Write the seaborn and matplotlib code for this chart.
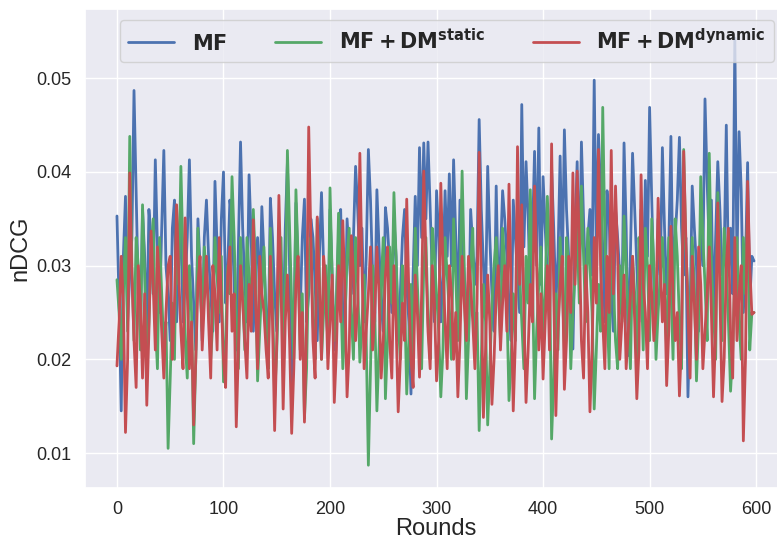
import numpy as np
import pandas as pd
import matplotlib
matplotlib.use("Agg")
import matplotlib.pyplot as plt
import seaborn as sns

# nDCG per round, every 2nd round (values in 1e-3)
rounds = list(range(0, 600, 2))

ndcg_mf = [
    35.3, 26, 14.5, 31, 37.4, 24, 29, 33, 48.7, 38, 27, 23, 36, 31, 22, 36, 33, 27, 41.3, 32,
    25, 34, 42.3, 30, 27, 22, 34, 37, 24, 30, 36, 24, 28, 33, 41.3, 31, 26, 21, 35, 30,
    22, 33, 37, 31, 27, 23, 39, 32, 24, 35, 40, 26, 30, 37, 35, 28, 21, 32, 43.2, 34,
    28, 24, 39.7, 33, 23, 30, 33, 26, 36.3, 31, 25, 21, 37.2, 33, 27, 23, 34, 30, 22, 34,
    41, 30, 15.5, 22, 36.7, 30, 25, 33, 37.1, 24, 27, 35, 33, 28, 22, 31, 37.8, 30, 26, 22,
    36, 29, 21, 26, 33, 36, 25, 22, 35, 31, 27, 33, 40.6, 36, 30, 34, 24, 31, 42.4, 37,
    29, 24, 38.1, 32, 26, 23, 36.2, 34, 30, 25, 35, 31, 22, 27, 33, 36, 28, 24, 16.3, 29,
    37.4, 30, 42.6, 33, 43.1, 35, 43.2, 36, 29, 24, 38, 33, 24, 29, 38, 31, 39.8, 30, 41.3, 33,
    25, 37, 33, 29, 26, 22, 36, 32, 28, 31, 45.6, 36, 30, 26, 40.6, 33, 27, 23, 38.5, 27,
    31, 38, 35, 31, 26, 22, 37, 33, 29, 25, 47.2, 32, 41.1, 35, 27, 33, 42.2, 30, 44.7, 28,
    39.5, 34, 29, 24, 40.4, 34, 26, 31, 41.7, 29, 44.5, 36, 31, 27, 21.1, 33, 41.1, 28, 43.2, 35,
    28, 33, 36, 29, 49.8, 31, 44, 38, 32, 24, 38, 35, 27, 23, 36, 33, 29, 25, 43.1, 34,
    20.4, 31, 42, 36, 30, 24, 36, 28, 39.1, 31, 46.9, 37, 28, 22, 35, 29, 42.6, 34, 27, 32,
    43.8, 28, 33, 37, 43.7, 34, 29, 33, 16, 25, 38.5, 34, 30, 23, 36, 30, 47.8, 39, 32, 37,
    24, 33, 41.1, 36, 29, 31, 45, 29, 34, 27, 54.3, 30, 44.3, 38, 25, 30, 41, 26, 31, 30.5,
]

ndcg_static = [
    28.5, 25, 20, 27, 33, 23, 43.8, 30, 22, 33, 30, 21, 36.5, 29, 19, 24, 31, 35, 24, 19,
    33, 27, 21, 24, 10.5, 18, 26, 20, 36, 28, 40.6, 31, 22, 18, 30, 25, 11, 20, 34, 28,
    23, 32, 29, 26, 20, 24, 33, 29, 25, 31, 17.6, 22, 30, 27, 39.5, 33, 24, 19, 33, 27,
    21, 33, 29, 24, 36, 30, 17.7, 23, 28, 32, 23, 19, 34, 27, 15.8, 21, 28, 33, 22, 26,
    42.3, 34, 26, 20, 38.1, 31, 21, 27, 13.7, 19, 31, 33, 24, 20, 35, 29, 20, 25, 30, 21,
    38.3, 29, 22, 26, 35.6, 28, 19, 24, 31, 34, 25, 20, 33, 28, 19.7, 24, 29, 22, 8.7, 19,
    30, 25, 14.5, 21, 28, 33, 15.8, 22, 32, 26, 37.8, 31, 24, 20, 30, 27, 16.3, 22, 28, 19,
    34, 28, 22, 19, 30, 33, 24, 20, 34, 31, 27, 23, 16, 21, 33, 29, 25, 20, 35, 29,
    22, 28, 40.1, 30, 15.8, 22, 30, 34, 21, 25, 12.4, 20, 28, 24, 13, 19, 26, 30, 33, 27,
    22, 34, 30, 26, 15.6, 20, 27, 22, 34, 29, 24, 19, 31, 26, 38.1, 29, 15.8, 23, 28, 32,
    22, 27, 37.4, 31, 11.5, 18, 27, 21, 33, 28, 21, 33, 30, 19, 25, 29, 34, 26, 38.5, 31,
    24, 34, 30, 25, 14.7, 21, 28, 23, 46.9, 33, 26, 19, 33, 28, 22, 19, 30, 24, 35.3, 30,
    24, 19, 31, 27, 19, 33, 29, 21, 34, 30, 22, 35, 30, 20, 25, 29, 33, 27, 21, 33,
    28, 20, 35, 31, 24, 19, 42.4, 32, 27, 21, 33, 28, 17.7, 24, 39.5, 33, 28, 22, 42, 30,
    25, 20, 37.8, 31, 22, 34, 30, 24, 16.6, 21, 29, 33, 24, 20, 33, 27, 36, 21, 25, 25,
]

ndcg_dynamic = [
    19.3, 24, 31, 26, 12.2, 20, 39.9, 29, 22, 17, 30, 26, 18, 27, 15.1, 23, 33.7, 28, 21, 32,
    28, 23, 18, 25, 30, 31, 20, 26, 36.5, 29, 23, 19, 35.1, 27, 19, 24, 13, 20, 28, 31,
    21, 26, 31, 24, 18, 30, 27, 21, 33, 26, 20, 17, 29, 32, 23, 27, 12.8, 21, 30, 26,
    22, 18, 28, 23, 34.9, 27, 19, 31, 27, 25, 21, 18, 31, 24, 12.4, 22, 37.5, 28, 14.7, 24,
    29, 22, 12.1, 19, 28, 31, 20, 25, 13.3, 24, 44.8, 33, 22, 18, 35.2, 28, 20, 31, 28, 19,
    24, 29, 15.4, 21, 30, 24, 34.8, 27, 16, 21, 33.2, 29, 22, 26, 42, 30, 19, 23, 27, 32,
    21, 25, 32, 27, 18, 22, 29, 32, 22, 18, 30, 24, 14.4, 20, 26, 22, 37.1, 27, 20, 17,
    29, 25, 18.1, 27, 40.1, 31, 23, 19, 30, 26, 17.7, 22, 38.8, 30, 24, 19, 30, 27, 20, 25,
    16, 22, 31, 26, 22, 31, 28, 24, 19, 26, 42.1, 28, 13.8, 21, 29, 24, 15.2, 20, 27, 30,
    21, 26, 30, 23, 38.7, 27, 14.5, 22, 42.7, 28, 36.5, 25, 15.4, 21, 28, 24, 38.5, 30, 21, 27,
    17.9, 24, 30, 21, 43, 27, 14, 23, 28, 31, 16.8, 22, 31, 25, 39.9, 28, 40.1, 33, 22, 18,
    30, 25, 14.4, 21, 33, 26, 42.4, 30, 24, 19, 31, 25, 42.3, 27, 38.5, 31, 20, 24, 29, 19,
    23, 27, 31, 24, 15.8, 21, 39.7, 28, 25, 19, 30, 27, 22, 25, 37.2, 30, 24, 28, 17.2, 23,
    34.2, 27, 22, 25, 16.1, 22, 42.2, 33, 25, 18, 31, 26, 20, 32, 28, 19, 23, 27, 32, 25,
    16, 23, 36.7, 27, 15.5, 20, 30, 34, 23, 18, 33, 22, 27, 30, 11.3, 20, 39, 30, 24.8, 25,
]

methods = [r"$\mathbf{MF}$",
           r"$\mathbf{MF+DM^{static}}$",
           r"$\mathbf{MF+DM^{dynamic}}$"]
colors = ["#4C72B0", "#55A868", "#C44E52"]

sns.set_theme(style="darkgrid")
plt.rcParams["font.family"] = ["Liberation Sans", "DejaVu Sans"]

frames = []
for name, vals in zip(methods, [ndcg_mf, ndcg_static, ndcg_dynamic]):
    frames.append(pd.DataFrame({"Rounds": rounds,
                                "nDCG": np.array(vals) / 1000.0,
                                "Method": name}))
df = pd.concat(frames, ignore_index=True)

fig, ax = plt.subplots(figsize=(7.77, 5.41), dpi=100)
ax.set_position([0.1094, 0.098, 0.9035, 0.8854])

sns.lineplot(data=df, x="Rounds", y="nDCG", hue="Method",
             palette=colors, linewidth=2.0, ax=ax)

ax.set_xlim(-30, 629)
ax.set_ylim(0.00627, 0.0574)
ax.set_xticks([0, 100, 200, 300, 400, 500, 600])
ax.set_yticks([0.01, 0.02, 0.03, 0.04, 0.05])
ax.tick_params(labelsize=13)
ax.set_xlabel("Rounds", fontsize=17, labelpad=0)
ax.set_ylabel("nDCG", fontsize=17)

ax.legend(loc="upper left", ncol=3, bbox_to_anchor=(0.05, 0.977),
          borderaxespad=0, prop={"size": 15, "weight": "bold"},
          handlelength=2.2, handletextpad=0.85, columnspacing=2.3,
          title=None)

fig.savefig("out.png", dpi=100)
